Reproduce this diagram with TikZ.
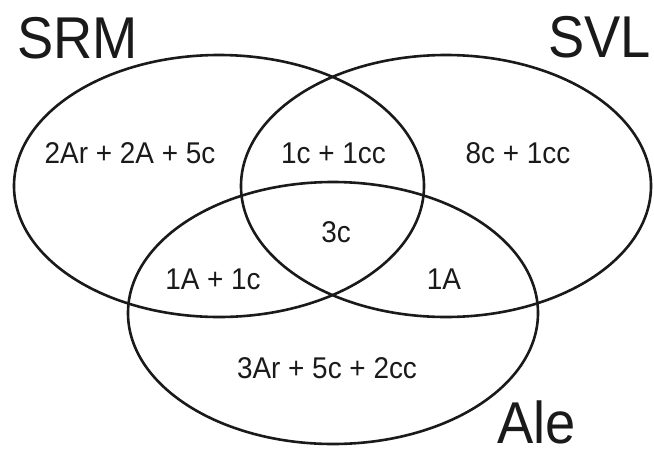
\documentclass[tikz,border=0pt]{standalone}
\usepackage{fontspec}
\setmainfont{Liberation Sans}
\usetikzlibrary{shapes.geometric}
\definecolor{ink}{HTML}{1A1A1A}
\tikzset{
  setring/.style={ellipse, draw=ink, line width=2.6pt, minimum width=410pt, minimum height=262pt, inner sep=0pt},
  settxt/.style={anchor=base, inner sep=0pt, xscale=0.93, text=ink, font=\fontsize{30}{32}\selectfont},
  bigtxt/.style={anchor=base west, inner sep=0pt, xscale=0.92, text=ink, font=\fontsize{59}{61}\selectfont}
}
\begin{document}
\begin{tikzpicture}[x=1pt,y=-1pt]
\useasboundingbox (0,0) rectangle (654,448);
\node[setring] (srm) at (219,186) {};
\node[setring] (svl) at (446,186) {};
\node[setring] (ale) at (333,313) {};
\node[bigtxt] (lsrm) at (17,58) {SRM};
\node[bigtxt] (lsvl) at (548,57) {SVL};
\node[bigtxt] (lale) at (497,443) {Ale};
\node[settxt] (t1) at (130,163) {2Ar + 2A + 5c};
\node[settxt] (t2) at (333.5,163) {1c + 1cc};
\node[settxt] (t3) at (518,163) {8c + 1cc};
\node[settxt] (t4) at (336,242) {3c};
\node[settxt] (t5) at (213,289) {1A + 1c};
\node[settxt] (t6) at (444,289) {1A};
\node[settxt] (t7) at (327,378) {3Ar + 5c + 2cc};
\end{tikzpicture}
\end{document}
